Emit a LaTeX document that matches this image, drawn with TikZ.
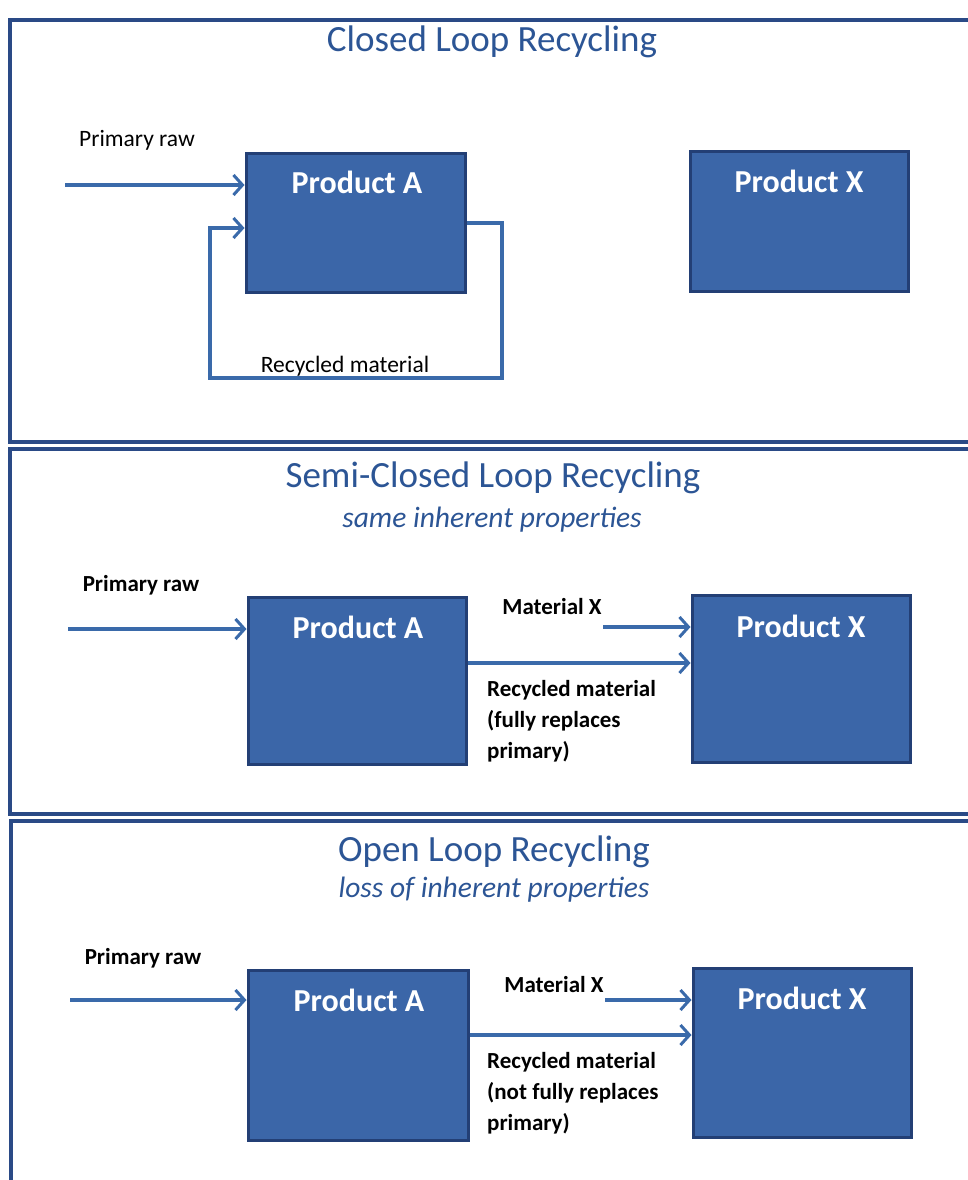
\documentclass[tikz,border=0pt]{standalone}
\usepackage{fontspec}
\setmainfont{Carlito}
\usetikzlibrary{arrows.meta}
\definecolor{frame}{HTML}{2A4A86}
\definecolor{boxfill}{HTML}{3B66A8}
\definecolor{boxline}{HTML}{233F75}
\definecolor{arr}{HTML}{3A6AAA}
\definecolor{ttl}{HTML}{2C5595}
\begin{document}
\begin{tikzpicture}[x=1pt,y=-1pt,
  panel/.style={draw=frame, line width=4.5pt},
  prod/.style={draw=boxline, line width=3pt, fill=boxfill, inner sep=0pt},
  ptext/.style={text=white, font=\bfseries\fontsize{32}{36}\selectfont, inner sep=0pt},
  ttitle/.style={text=ttl, font=\fontsize{37}{42}\selectfont, inner sep=0pt},
  tsub/.style={text=ttl, font=\itshape\fontsize{29.5}{32}\selectfont, inner sep=0pt},
  lab/.style={text=black, font=\fontsize{23.5}{31}\selectfont, inner sep=0pt},
  blab/.style={text=black, font=\bfseries\fontsize{23}{31}\selectfont, inner sep=0pt, align=left},
  flow/.style={draw=arr, line width=4pt, -{Straight Barb[length=9pt,width=20pt,line width=3pt]}},
  loopl/.style={draw=arr, line width=3.5pt, -{Straight Barb[length=9pt,width=20pt,line width=3pt]}}
]
\useasboundingbox (0,0) rectangle (967,1180);
\fill[white] (0,0) rectangle (967,1180);

% panels
\draw[panel] (10,20) rectangle (1000,442);
\draw[panel] (10,449) rectangle (1000,814);
\draw[panel] (11,821) rectangle (1000,1220);

% ---------- Panel 1 ----------
\node[ttitle] (t1) at (492,42) {Closed Loop Recycling};
\node[lab] (pr1) at (137,140) {Primary raw};
\node[prod, minimum width=219pt, minimum height=139pt] (a1) at (355.5,222.5) {};
\node[ptext] (a1t) at (357,182) {Product A};
\node[prod, minimum width=218pt, minimum height=140pt] (x1) at (799,221) {};
\node[ptext] (x1t) at (799,181) {Product X};
\coordinate (s1) at (65,185);
\draw[flow] (s1) -- (s1 -| a1.west);
\coordinate (r1a) at (502,223);
\coordinate (r1b) at (502,378);
\coordinate (r1c) at (210,378);
\coordinate (r1d) at (210,228);
\draw[loopl] (r1a -| a1.east) -- (r1a) -- (r1b) -- (r1c) -- (r1d) -- (r1d -| a1.west);
\node[lab] (rm1) at (345,366) {Recycled material};

% ---------- Panel 2 ----------
\node[ttitle] (t2) at (493,478) {Semi-Closed Loop Recycling};
\node[tsub] (st2) at (492,520) {same inherent properties};
\node[blab] (pr2) at (141,585) {Primary raw};
\node[prod, minimum width=218pt, minimum height=167pt] (a2) at (357,680.5) {};
\node[ptext] (a2t) at (358,627) {Product A};
\node[prod, minimum width=218pt, minimum height=167pt] (x2) at (801,678.5) {};
\node[ptext] (x2t) at (801,626) {Product X};
\coordinate (s2) at (68,629);
\draw[flow] (s2) -- (s2 -| a2.west);
\node[blab] (mx2) at (552,607) {Material X};
\coordinate (m2) at (603,627);
\draw[flow] (m2) -- (m2 -| x2.west);
\coordinate (rc2) at (470,663);
\draw[flow] (rc2 -| a2.east) -- (rc2 -| x2.west);
\node[blab, anchor=north west] (rm2) at (487,680) {Recycled material\\(fully replaces\\primary)};

% ---------- Panel 3 ----------
\node[ttitle] (t3) at (494,852) {Open Loop Recycling};
\node[tsub] (st3) at (494,890) {loss of inherent properties};
\node[blab] (pr3) at (143,958) {Primary raw};
\node[prod, minimum width=220pt, minimum height=170pt] (a3) at (358,1055) {};
\node[ptext] (a3t) at (359,1000) {Product A};
\node[prod, minimum width=218pt, minimum height=169pt] (x3) at (802,1052.5) {};
\node[ptext] (x3t) at (802,998) {Product X};
\coordinate (s3) at (70,1000);
\draw[flow] (s3) -- (s3 -| a3.west);
\node[blab] (mx3) at (554,985) {Material X};
\coordinate (m3) at (605,1000);
\draw[flow] (m3) -- (m3 -| x3.west);
\coordinate (rc3) at (470,1035);
\draw[flow] (rc3 -| a3.east) -- (rc3 -| x3.west);
\node[blab, anchor=north west] (rm3) at (487,1052) {Recycled material\\(not fully replaces\\primary)};
\end{tikzpicture}
\end{document}
